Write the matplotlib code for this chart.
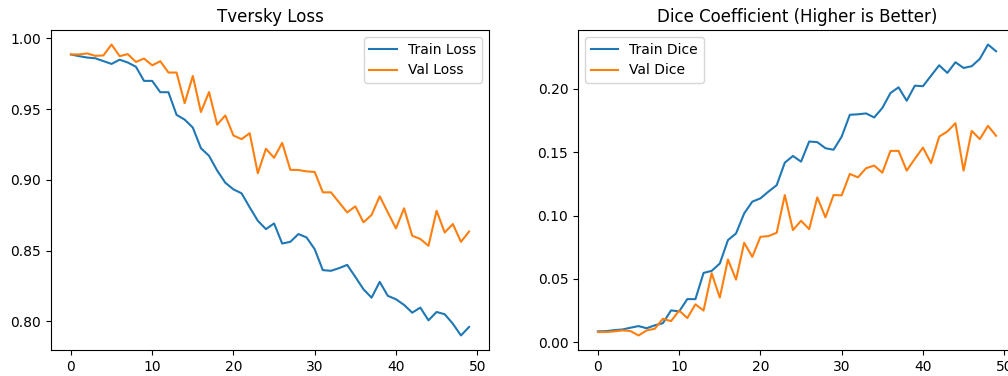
#!/usr/bin/env python3
"""
Training curves: Tversky loss and Dice coefficient per epoch
"""

import numpy as np
import matplotlib
matplotlib.use('Agg')
import matplotlib.pyplot as plt

epochs = np.arange(50)

train_loss = [0.9887, 0.9875, 0.9865, 0.9860, 0.9840, 0.9820, 0.9850, 0.9830, 0.9800, 0.9700,
              0.9700, 0.9620, 0.9620, 0.9460, 0.9426, 0.9370, 0.9224, 0.9170, 0.9066, 0.8980,
              0.8933, 0.8905, 0.8806, 0.8711, 0.8652, 0.8692, 0.8550, 0.8562, 0.8617, 0.8593,
              0.8510, 0.8362, 0.8357, 0.8376, 0.8399, 0.8314, 0.8227, 0.8167, 0.8279, 0.8180,
              0.8156, 0.8116, 0.8061, 0.8097, 0.8007, 0.8066, 0.8050, 0.7983, 0.7900, 0.7960]
val_loss = [0.9887, 0.9887, 0.9894, 0.9877, 0.9880, 0.9957, 0.9875, 0.9889, 0.9834, 0.9858,
            0.9810, 0.9839, 0.9759, 0.9759, 0.9543, 0.9735, 0.9480, 0.9621, 0.9390, 0.9456,
            0.9314, 0.9288, 0.9330, 0.9047, 0.9220, 0.9156, 0.9262, 0.9071, 0.9070, 0.9060,
            0.9056, 0.8912, 0.8912, 0.8841, 0.8770, 0.8813, 0.8700, 0.8752, 0.8884, 0.8770,
            0.8657, 0.8799, 0.8605, 0.8582, 0.8534, 0.8782, 0.8628, 0.8688, 0.8562, 0.8635]

train_dice = [0.0085, 0.0087, 0.0095, 0.0100, 0.0114, 0.0127, 0.0110, 0.0133, 0.0150, 0.0251,
              0.0243, 0.0340, 0.0340, 0.0547, 0.0563, 0.0621, 0.0806, 0.0859, 0.1017, 0.1110,
              0.1136, 0.1190, 0.1240, 0.1418, 0.1471, 0.1426, 0.1585, 0.1580, 0.1532, 0.1520,
              0.1624, 0.1796, 0.1800, 0.1807, 0.1775, 0.1850, 0.1968, 0.2013, 0.1907, 0.2026,
              0.2022, 0.2105, 0.2187, 0.2127, 0.2211, 0.2166, 0.2180, 0.2238, 0.2351, 0.2298]
val_dice = [0.0080, 0.0080, 0.0085, 0.0093, 0.0088, 0.0053, 0.0093, 0.0106, 0.0185, 0.0166,
            0.0250, 0.0190, 0.0299, 0.0250, 0.0545, 0.0352, 0.0653, 0.0494, 0.0785, 0.0674,
            0.0832, 0.0838, 0.0864, 0.1162, 0.0885, 0.0959, 0.0893, 0.1144, 0.0986, 0.1162,
            0.1160, 0.1329, 0.1302, 0.1374, 0.1395, 0.1339, 0.1511, 0.1511, 0.1355, 0.1448,
            0.1537, 0.1414, 0.1624, 0.1664, 0.1730, 0.1355, 0.1669, 0.1604, 0.1709, 0.1630]

fig = plt.figure(figsize=(10.08, 3.76), dpi=100)
W, H = 1008.0, 376.0

# the right panel runs past the right edge, as in the original screenshot
ax1 = fig.add_axes([51 / W, 26 / H, 438 / W, 320 / H])
ax2 = fig.add_axes([578 / W, 26 / H, 438 / W, 320 / H])

ax1.plot(epochs, train_loss, label='Train Loss')
ax1.plot(epochs, val_loss, label='Val Loss')
ax1.set_title('Tversky Loss')
ax1.legend(loc='upper right')

ax2.plot(epochs, train_dice, label='Train Dice')
ax2.plot(epochs, val_dice, label='Val Dice')
ax2.set_title('Dice Coefficient (Higher is Better)')
ax2.legend(loc='upper left')

plt.savefig('out.png', dpi=100)
